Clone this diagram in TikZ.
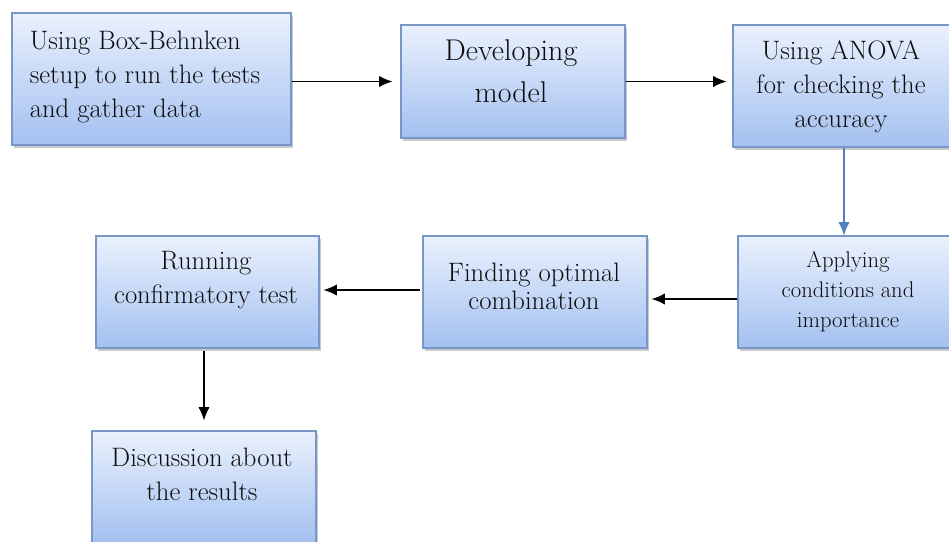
\documentclass[tikz,border=0pt]{standalone}
\usepackage{xcolor}
\usepackage{tikz}
\usetikzlibrary{calc}
\usetikzlibrary{shadows}
\usetikzlibrary{arrows.meta}
\definecolor{boxtop}{HTML}{EAF1FD}
\definecolor{boxbot}{HTML}{A3C0F0}
\definecolor{boxline}{HTML}{7896C8}
\definecolor{flowblue}{HTML}{4F7FBF}

\begin{document}
\begin{tikzpicture}[x=0.75pt,y=-0.75pt,
	box/.style={rectangle,draw=boxline,line width=0.9pt,top color=boxtop,bottom color=boxbot,
		drop shadow={shadow xshift=1.2pt,shadow yshift=-2.4pt,opacity=0.3,fill=black!70}},
	txt/.style={align=center,inner sep=0pt,text=black!95,font=\fontsize{20}{25.5}\selectfont},
	flow/.style={-{Latex[length=10pt,width=8.5pt]},line width=0.9pt}]
	\useasboundingbox (0,0) rectangle (949,542);
	% boxes
	\node[box,minimum width=209.25pt,minimum height=99pt] (b1) at (151.5,79) {};
	\node[box,minimum width=168pt,minimum height=84.75pt] (b2) at (513,81.5) {};
	\node[box,minimum width=166.5pt,minimum height=91.5pt] (b3) at (844,86) {};
	\node[box,minimum width=166.5pt,minimum height=84pt] (b4) at (849,292) {};
	\node[box,minimum width=168pt,minimum height=84pt] (b5) at (535,292) {};
	\node[box,minimum width=167.25pt,minimum height=84pt] (b6) at (207.5,292) {};
	\node[box,minimum width=168pt,minimum height=84pt] (b7) at (204,487) {};
	% texts
	\node[txt,align=left] (t1) at (145,77) {Using Box-Behnken\\setup to run the tests\\and gather data};
	\node[txt,font=\fontsize{22.5}{31.5}\selectfont] (t2) at (511,71) {Developing\\model};
	\node[txt] (t3) at (841,87) {Using ANOVA\\for checking the\\accuracy};
	\node[txt,font=\fontsize{17}{22.5}\selectfont] (t4) at (848,292) {Applying\\conditions and\\importance};
	\node[txt,font=\fontsize{20}{21}\selectfont] (t5) at (534,286) {Finding optimal\\combination};
	\node[txt] (t6) at (206,280) {Running\\confirmatory test};
	\node[txt] (t7) at (202,474) {Discussion about\\the results};
	% arrows
		\draw[flow,shorten >=6pt] (b2.west -| b1.east) -- (b2.west);
		\draw[flow,shorten >=4.5pt] (b2.east) -- (b2.east -| b3.west);
	\draw[flow,draw=flowblue] (b3.south) -- (b3.south |- b4.north);
		\draw[flow,shorten >=3pt] ($(b4.west)+(0,7)$) -- ($(b4.west -| b5.east)+(0,7)$);
		\draw[flow,shorten <=2pt,shorten >=3pt] ($(b5.west)+(0,-2)$) -- ($(b5.west -| b6.east)+(0,-2)$);
	\draw[flow,shorten <=1.5pt,shorten >=7.5pt] (b6.south -| b7.north) -- (b7.north);
\end{tikzpicture}
\end{document}
